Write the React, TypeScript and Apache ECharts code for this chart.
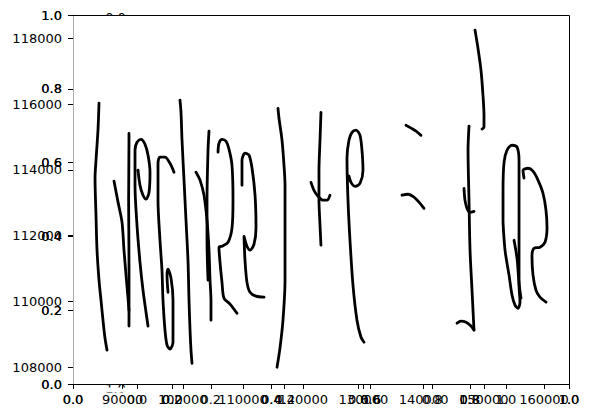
import React, { useEffect, useRef } from "react";
import * as echarts from "echarts";

// Tick values of the data axes (map coordinates)
const xTicksB = [90000, 100000, 110000, 120000, 130000, 140000, 150000, 160000];
const yTicksB = [108000, 110000, 112000, 114000, 116000, 118000];

// Traced strokes in data coordinates [x, y]
const s1 = [[86080,116030],[85910,115210],[85580,114290],[85420,113750],[85580,112620],[85750,111560],[86080,110650],[86410,110040],[86740,109430],[87080,108880],[87410,108520]];
const s2 = [[88570,113660],[89240,113020],[89900,112410],[90230,111560],[90570,110800],[90900,110100],[91060,109730]];
const s3 = [[91060,115110],[91060,114900],[91000,113080],[91060,111250],[91060,110040],[91060,109250]];
const s4 = [[94220,109250],[93890,109670],[93390,110340],[92890,111190],[92390,112320],[92060,113530],[92060,114600],[92390,114840],[93060,114930],[93720,114780],[94220,114450],[94550,113930],[94390,113320],[93890,113110],[93390,113230],[92890,113530],[92560,113990]];
const s5 = [[98540,113930],[97870,114200],[97040,114390],[96210,114390],[95880,114200],[95880,113080],[96210,111860],[96540,110950],[96710,110040],[97040,109130],[97380,108670],[97870,108550],[98370,108760],[98370,110040],[98040,110710],[97540,110980],[97380,110800],[97540,110280]];
const s6 = [[99530,116120],[99700,115750],[99870,114900],[100200,113690],[100530,112470],[100860,111250],[101030,110040],[101200,109130],[101360,108520],[101530,108120]];
const s7 = [[102190,113930],[102860,113690],[103520,113230],[104020,112470],[104350,111560],[104520,110650],[104680,110040],[104680,109430]];
const s8 = [[104350,115180],[104190,114600],[104020,113080],[104020,111860],[104190,110650]];
const s9 = [[105850,114540],[106010,114810],[106510,114930],[107180,114870],[107670,114630],[108170,114140],[108340,113080],[108170,112230],[107510,111800],[106510,111680],[106010,111650],[106180,111190],[106510,110580],[106840,110100],[107840,109920],[109000,109640]];
const s10 = [[109830,113530],[109830,114290],[110330,114510],[111000,114450],[111500,114050],[112000,113230],[112160,112230],[111830,111740],[111160,111560],[110660,111680],[110170,111980],[110330,111250],[110660,110580],[111160,110280],[112160,110160],[113490,110130]];
const s11 = [[115810,115870],[115980,115570],[116480,114900],[116810,114140],[116980,113530],[116980,112170],[116980,110650],[116640,109430],[116140,108580],[115650,108000]];
const s12 = [[121290,113620],[121790,113380],[122460,113200],[123290,113080],[123950,113080],[124450,113230]];
const s13 = [[122950,115750],[122790,114900],[122620,113990],[122620,113080],[122790,112320],[122950,111710]];
const s14 = [[130100,108760],[129600,108910],[128930,109430],[128270,110490],[127770,111860],[127440,113080],[127270,114350],[127600,114900],[128100,115140],[128770,115210],[129430,115050],[129760,114600],[129930,113990],[129430,113590],[128600,113500],[127940,113620],[127600,113810]];
const s15 = [[136410,113230],[137410,113260],[138400,113170],[139230,113020],[140060,112830]];
const s16 = [[137070,115360],[137910,115270],[138740,115180],[139570,115050]];
const s17 = [[145550,109340],[146210,109400],[147040,109370],[147870,109250],[148370,109130]];
const s18 = [[147540,115330],[147380,114600],[147540,113080],[147710,111560],[148040,110340],[148370,109130]];
const s19 = [[146710,113440],[146870,113080],[147210,112830],[147710,112710],[148370,112740]];
const s20 = [[148540,118250],[149030,117700],[149530,117030],[149860,116270],[150030,115660],[150030,115300],[149700,115240]];
const s21 = [[153190,112410],[153190,113380],[153360,114230],[153860,114600],[154690,114750],[155520,114690],[155850,114290],[155850,113080],[155850,111560],[155850,110490],[156010,109980],[155680,109790],[155180,109890],[154690,110190],[154190,110800],[153520,111560],[153190,112410]];
const s22 = [[155020,111860],[155520,111310],[155850,110550],[156180,110100]];
const s23 = [[156670,113750],[156510,113990],[157340,114050],[158170,113960],[159000,113690],[159830,113290],[160330,112770],[160500,112230],[160160,111800],[159330,111650],[158340,111620],[158000,111380],[158170,110800],[158670,110340],[159330,110130],[160330,109980]];

const strokes = [s1,s2,s3,s4,s5,s6,s7,s8,s9,s10,s11,s12,s13,s14,s15,s16,s17,s18,s19,s20,s21,s22,s23];

const FONT = "DejaVu Sans";
const labelBase = { color: "#000", fontFamily: FONT, fontSize: 13 };
const tickBase = { show: true, inside: false, length: 5, lineStyle: { color: "#000", width: 1 } };
const fmt01 = (v: number) => v.toFixed(1);

export default function App() {
  const ref = useRef<HTMLDivElement>(null);
  useEffect(() => {
    if (!ref.current) return;
    const chart = echarts.init(ref.current, undefined, { renderer: "svg" });
    const unitX = (show: boolean, line: boolean) => ({
      type: "value", gridIndex: 0, min: 0, max: 1, interval: 0.2, position: "bottom", z: 5,
      axisLine: { show: line, lineStyle: { color: "#000", width: 1 } },
      axisTick: tickBase, splitLine: { show: false },
      axisLabel: { ...labelBase, show, margin: 9, formatter: fmt01 },
    });
    const unitY = (show: boolean, line: boolean) => ({
      type: "value", gridIndex: 0, min: 0, max: 1, interval: 0.2, position: "left", z: 5,
      axisLine: { show: line, lineStyle: { color: "#a8a8a8", width: 1 } },
      axisTick: tickBase, splitLine: { show: false },
      axisLabel: { ...labelBase, show, margin: 11, formatter: fmt01 },
    });
    chart.setOption({
      animation: false,
      backgroundColor: "#fff",
      grid: [
        { left: 73, top: 15, width: 496, height: 369 },
        { left: 137, top: 15, width: 369, height: 369 },
      ],
      xAxis: [
        unitX(true, true),
        unitX(true, false),
        {
          type: "value", gridIndex: 0, min: 81760, max: 164150, position: "bottom", z: 5,
          axisLine: { show: false }, splitLine: { show: false },
          axisTick: { ...tickBase, customValues: xTicksB },
          axisLabel: { ...labelBase, margin: 9, customValues: xTicksB, formatter: (v: number) => String(v) },
        },
        {
          type: "value", gridIndex: 1, min: 0, max: 1, interval: 0.2, position: "bottom", z: 5,
          axisLine: { show: false }, splitLine: { show: false },
          axisTick: tickBase,
          axisLabel: { ...labelBase, margin: 9, formatter: fmt01 },
        },
      ],
      yAxis: [
        unitY(true, true),
        unitY(true, false),
        {
          type: "value", gridIndex: 0, min: 107490, max: 118710, position: "left", z: 5,
          axisLine: { show: false }, splitLine: { show: false },
          axisTick: { ...tickBase, customValues: yTicksB },
          axisLabel: { ...labelBase, margin: 11, customValues: yTicksB, formatter: (v: number) => String(v) },
        },
        { type: "value", gridIndex: 1, min: 0, max: 1, show: false },
      ],
      series: strokes.map((d) => ({
        type: "line", xAxisIndex: 2, yAxisIndex: 2, data: d, showSymbol: false, symbol: "none",
        smooth: 0.3, lineStyle: { color: "#000", width: 2.8, cap: "round", join: "round" },
        silent: true, z: 3,
      })),
      graphic: [
        { type: "text", z: 1, x: 115.5, y: 11, style: { text: "0.0", fill: "#000", font: `13px '${FONT}'`, align: "center", verticalAlign: "top" } },
        { type: "rect", z: 2, shape: { x: 98, y: 15.5, width: 36, height: 10 }, style: { fill: "#fff" } },
        { type: "text", z: 1, x: 115.5, y: 381.5, style: { text: "1.0", fill: "#000", font: `13px '${FONT}'`, align: "center", verticalAlign: "top" } },
        { type: "rect", z: 2, shape: { x: 98, y: 387.5, width: 36, height: 5 }, style: { fill: "#fff" } },
        { type: "line", z: 10, shape: { x1: 73, y1: 15.5, x2: 569.5, y2: 15.5 }, style: { stroke: "#000", lineWidth: 1 } },
        { type: "line", z: 10, shape: { x1: 569.5, y1: 15.5, x2: 569.5, y2: 384 }, style: { stroke: "#000", lineWidth: 1 } },
      ],
    });
    return () => chart.dispose();
  }, []);
  return <div ref={ref} style={{ position: "fixed", left: 0, top: 0, width: 589, height: 418 }} />;
}
